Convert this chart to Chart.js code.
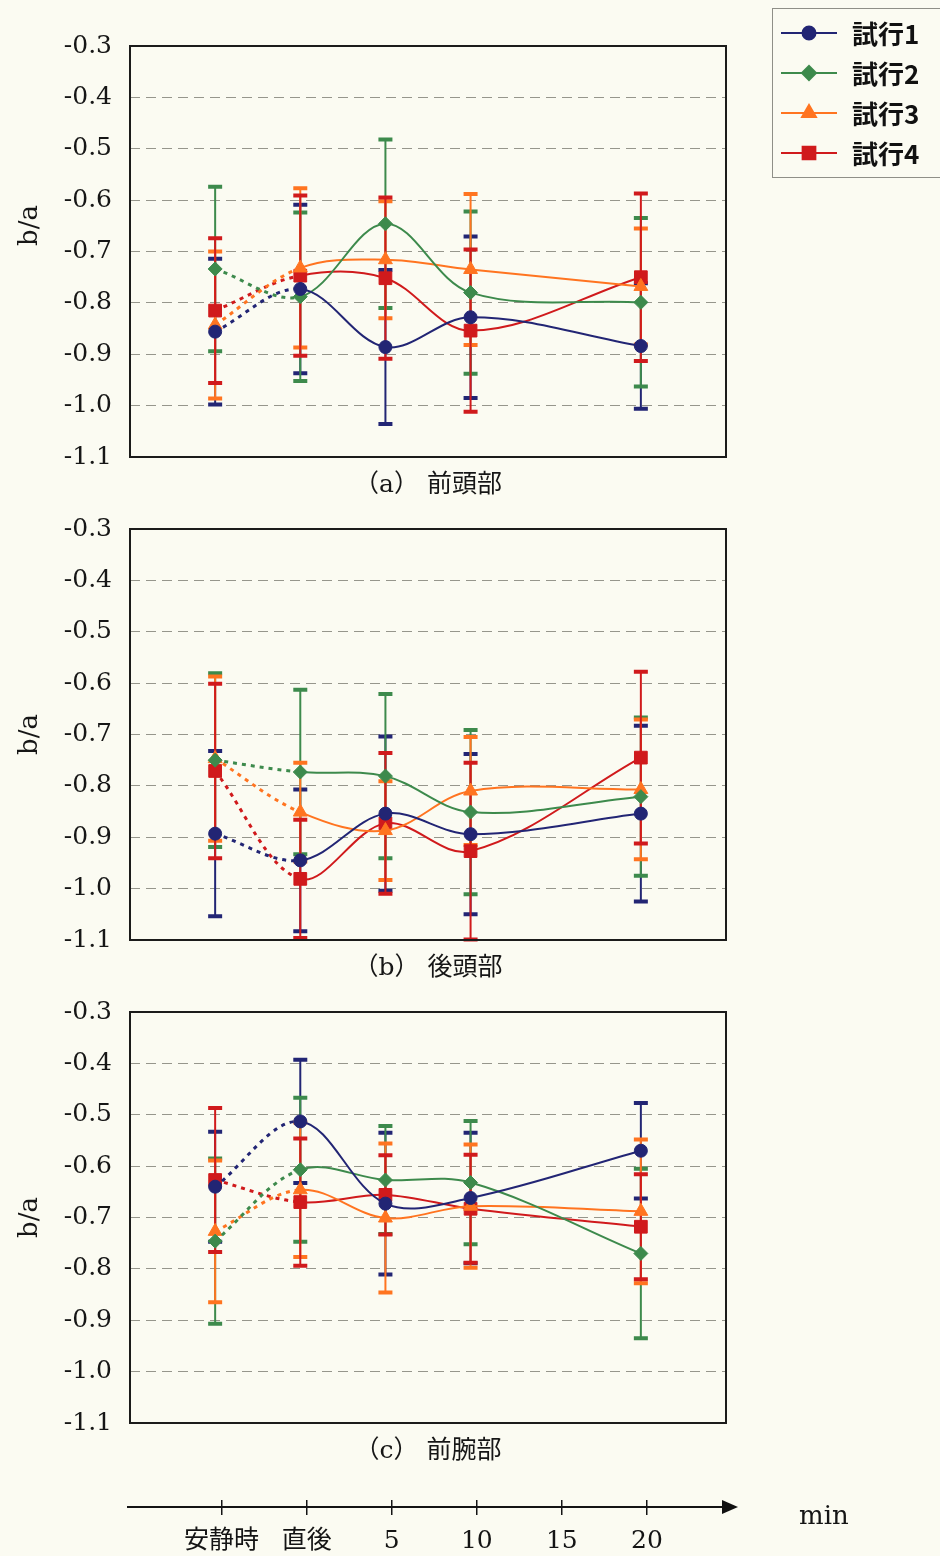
<!DOCTYPE html>
<html>
<head>
<meta charset="utf-8">
<script src="https://cdn.jsdelivr.net/npm/chart.js@4.4.0/dist/chart.umd.min.js"></script>
<style>
  body { margin: 0; background: #fbfbf2; }
  #page { position: relative; width: 940px; height: 1556px; overflow: hidden; }
  canvas { position: absolute; left: 0; }
  #minLabel { position: absolute; left: 799px; top: 1500px; font: 26px 'DejaVu Serif', serif; color: #151515; }
</style>
</head>
<body>
<div id="page">
  <canvas id="chartA" width="940" height="500" style="top:0px"></canvas>
  <canvas id="chartB" width="940" height="500" style="top:483px"></canvas>
  <canvas id="chartC" width="940" height="500" style="top:966px"></canvas>
  <canvas id="timeAxis" width="940" height="76" style="top:1480px"></canvas>
  <div id="minLabel">min</div>
</div>
<script>
// time points: 安静時 = -5, 直後 = 0, then minutes
const timeX = [-5, 0, 5, 10, 20];
const trialNames = ['試行1', '試行2', '試行3', '試行4'];

// (a) 前頭部  - mean and SD per trial
const frontMean = [
  [-0.856, -0.773, -0.886, -0.828, -0.884],
  [-0.734, -0.788, -0.646, -0.780, -0.799],
  [-0.843, -0.732, -0.716, -0.735, -0.768],
  [-0.815, -0.747, -0.752, -0.854, -0.750]
];
const frontSd = [
  [0.142, 0.164, 0.150, 0.157, 0.122],
  [0.160, 0.164, 0.164, 0.158, 0.164],
  [0.143, 0.155, 0.114, 0.147, 0.113],
  [0.141, 0.156, 0.157, 0.158, 0.163]
];

// (b) 後頭部
const backMean = [
  [-0.893, -0.945, -0.854, -0.894, -0.854],
  [-0.750, -0.773, -0.781, -0.851, -0.821],
  [-0.747, -0.851, -0.887, -0.810, -0.807],
  [-0.771, -0.981, -0.873, -0.927, -0.745]
];
const backSd = [
  [0.161, 0.138, 0.150, 0.156, 0.171],
  [0.169, 0.160, 0.160, 0.160, 0.154],
  [0.160, 0.096, 0.096, 0.105, 0.136],
  [0.170, 0.115, 0.137, 0.172, 0.167]
];

// (c) 前腕部
const armMean = [
  [-0.640, -0.513, -0.673, -0.662, -0.570],
  [-0.746, -0.607, -0.627, -0.632, -0.770],
  [-0.727, -0.646, -0.701, -0.678, -0.688],
  [-0.627, -0.670, -0.656, -0.683, -0.718]
];
const armSd = [
  [0.107, 0.120, 0.138, 0.127, 0.093],
  [0.161, 0.140, 0.105, 0.120, 0.165],
  [0.138, 0.131, 0.145, 0.120, 0.140],
  [0.140, 0.124, 0.077, 0.105, 0.102]
];

// shared time axis at the bottom
const axisTicks = [-5, 0, 5, 10, 15, 20];
const axisNames = { '-5': '安静時', '0': '直後' };

const colors = ['#222574', '#3d8a4c', '#ff7420', '#d01a1c'];
const markers = ['circle', 'rectRot', 'triangle', 'rect'];
const markerSize = [6.5, 7, 8, 9];

const serif = "'DejaVu Serif', 'Noto Sans CJK JP', serif";

// vertical SD bars with caps, drawn under the lines
const errorBars = {
  id: 'errorBars',
  beforeDatasetsDraw(chart) {
    const { ctx, scales: { x, y } } = chart;
    ctx.save();
    chart.data.datasets.forEach(ds => {
      ctx.strokeStyle = ds.borderColor;
      ds.data.forEach((p, i) => {
        const px = x.getPixelForValue(p.x);
        const top = y.getPixelForValue(p.y + ds.sd[i]);
        const bot = y.getPixelForValue(p.y - ds.sd[i]);
        ctx.lineWidth = 2;
        ctx.beginPath();
        ctx.moveTo(px, top);
        ctx.lineTo(px, bot);
        ctx.stroke();
        ctx.lineWidth = 4;
        ctx.beginPath();
        ctx.moveTo(px - 7, top); ctx.lineTo(px + 7, top);
        ctx.moveTo(px - 7, bot); ctx.lineTo(px + 7, bot);
        ctx.stroke();
      });
    });
    ctx.restore();
  }
};

// plot frame + rotated y title
const frameBox = {
  id: 'frameBox',
  afterDraw(chart, args, opts) {
    const { ctx, chartArea: a } = chart;
    ctx.save();
    ctx.strokeStyle = '#1b1b1b';
    ctx.lineWidth = 2;
    ctx.strokeRect(a.left, a.top, a.right - a.left, a.bottom - a.top);
    ctx.translate(30, (a.top + a.bottom) / 2 + (opts.shift || 0));
    ctx.rotate(-Math.PI / 2);
    ctx.font = '26px ' + serif;
    ctx.textAlign = 'center';
    ctx.textBaseline = 'middle';
    ctx.fillStyle = '#161616';
    ctx.fillText('b/a', 0, 0);
    ctx.restore();
  }
};

// boxed legend at the top right, only on the first panel
const trialLegend = {
  id: 'trialLegend',
  afterDraw(chart) {
    const ctx = chart.ctx;
    ctx.save();
    ctx.strokeStyle = '#8f8f88';
    ctx.lineWidth = 1;
    ctx.strokeRect(772.5, 8.5, 172, 169);
    chart.data.datasets.forEach((ds, i) => {
      const cy = 33 + i * 40;
      ctx.strokeStyle = ds.borderColor;
      ctx.fillStyle = ds.borderColor;
      ctx.lineWidth = 2;
      ctx.beginPath();
      ctx.moveTo(781, cy);
      ctx.lineTo(837, cy);
      ctx.stroke();
      Chart.helpers.drawPoint(ctx, { pointStyle: ds.pointStyle, radius: ds.pointRadius, borderWidth: 1, rotation: 0 }, 809, cy);
      ctx.fillStyle = '#111';
      ctx.font = 'bold 26px "Noto Sans CJK JP"';
      ctx.textBaseline = 'middle';
      ctx.fillText(ds.label, 852, cy + 1);
    });
    ctx.restore();
  }
};

function makePanel(id, caption, means, sds, titleShift, extra) {
  return new Chart(document.getElementById(id), {
    type: 'line',
    data: {
      datasets: trialNames.map((name, k) => ({
        label: name,
        data: timeX.map((t, i) => ({ x: t, y: means[k][i] })),
        sd: sds[k],
        borderColor: colors[k],
        backgroundColor: colors[k],
        borderWidth: 2,
        pointStyle: markers[k],
        pointRadius: markerSize[k],
        pointBorderWidth: 1,
        tension: 0.35,
        segment: {
          // 安静時 -> 直後 is dotted
          borderDash: c => c.p0DataIndex === 0 ? [4, 5] : undefined,
          borderWidth: c => c.p0DataIndex === 0 ? 3 : undefined
        }
      }))
    },
    options: {
      responsive: false,
      animation: false,
      layout: { padding: { left: 12, top: 46, right: 214, bottom: 0 } },
      plugins: {
        legend: { display: false },
        tooltip: { enabled: false },
        frameBox: { shift: titleShift }
      },
      scales: {
        x: {
          type: 'linear',
          min: -10,
          max: 25,
          ticks: { display: false },
          grid: { display: false },
          border: { display: false },
          title: {
            display: true,
            text: caption,
            color: '#161616',
            font: { family: serif, size: 25 },
            padding: { top: 0, bottom: 0 }
          },
          afterFit: s => { s.height = 43; }
        },
        y: {
          min: -1.1,
          max: -0.3,
          ticks: {
            stepSize: 0.1,
            padding: 18,
            color: '#161616',
            font: { family: serif, size: 25 },
            callback: v => v.toFixed(1)
          },
          grid: {
            drawTicks: false,
            lineWidth: 1,
            color: c => (c.index === 0 || c.index === 8) ? 'rgba(0,0,0,0)' : '#96968c'
          },
          border: { display: false, dash: [10, 6] },
          afterFit: s => { s.width = 118; }
        }
      }
    },
    plugins: [errorBars, frameBox].concat(extra || [])
  });
}

document.addEventListener('DOMContentLoaded', () => {
  makePanel('chartA', '（a） 前頭部', frontMean, frontSd, -26, [trialLegend]);
  makePanel('chartB', '（b） 後頭部', backMean, backSd, 0);
  makePanel('chartC', '（c） 前腕部', armMean, armSd, 0);

  const arrowHead = {
    id: 'arrowHead',
    afterDraw(chart) {
      const { ctx, chartArea: a } = chart;
      ctx.save();
      ctx.fillStyle = '#111';
      ctx.beginPath();
      ctx.moveTo(a.right - 10, a.bottom - 7);
      ctx.lineTo(a.right + 6, a.bottom);
      ctx.lineTo(a.right - 10, a.bottom + 7);
      ctx.closePath();
      ctx.fill();
      ctx.restore();
    }
  };

  new Chart(document.getElementById('timeAxis'), {
    type: 'line',
    data: { datasets: [] },
    options: {
      responsive: false,
      animation: false,
      layout: { padding: { left: 128, right: 208, top: 20, bottom: 0 } },
      plugins: { legend: { display: false }, tooltip: { enabled: false } },
      scales: {
        x: {
          type: 'linear',
          min: -10.5,
          max: 25,
          afterBuildTicks: s => { s.ticks = axisTicks.map(v => ({ value: v })); },
          ticks: {
            autoSkip: false,
            maxRotation: 0,
            padding: 11,
            color: '#141414',
            font: { family: serif, size: 25 },
            callback: v => axisNames[v] || String(v)
          },
          grid: { color: '#141414', lineWidth: 1.5, tickLength: 8, drawOnChartArea: true },
          border: { display: true, color: '#141414', width: 2 },
          afterFit: s => { s.height = 49; }
        },
        y: { display: false, min: 0, max: 1 }
      }
    },
    plugins: [arrowHead]
  });
});
</script>
</body>
</html>
